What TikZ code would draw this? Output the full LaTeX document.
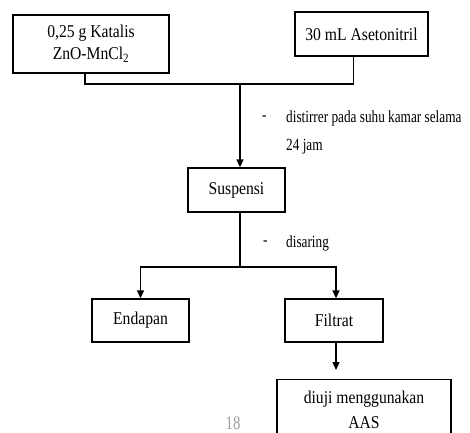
\documentclass[tikz,border=0pt]{standalone}
\usepackage{fontspec}
\setmainfont{Liberation Serif}
\newfontfamily\boxfont[FakeStretch=0.87]{Liberation Serif}
\newfontfamily\lblfont[FakeStretch=0.78]{Liberation Serif}
\usepackage{tikz}
\usetikzlibrary{arrows.meta,positioning,calc}
\tikzset{
  box/.style={draw, line width=1.3pt, align=center, font=\boxfont\fontsize{18}{22}\selectfont, inner sep=2pt},
  lbl/.style={anchor=west, font=\lblfont\fontsize{17}{20}\selectfont, inner sep=0pt},
  arr/.style={-{Triangle[length=8pt,width=7pt]}, line width=1.3pt},
  ln/.style={line width=1.3pt}
}
\begin{document}
\begin{tikzpicture}[x=1pt,y=-1pt]
\useasboundingbox (0,0) rectangle (470,432);
\node[box, minimum width=156pt, minimum height=58pt] (k1) at (91,44) {0,25 g Katalis\\ ZnO-MnCl\textsubscript{2}};
\node[box, minimum width=133pt, minimum height=44pt] (a2) at (361.5,34) {30 mL Asetonitril};
\node[box, minimum width=97pt, minimum height=44pt] (s1) at (236.5,190) {Suspensi};
\node[box, minimum width=97pt, minimum height=43pt] (e1) at (140.5,320.5) {Endapan};
\node[box, minimum width=98pt, minimum height=43pt] (f1) at (334,320.5) {Filtrat};
\node[box, anchor=north, minimum width=174pt, minimum height=60pt, inner ysep=4pt, font=\boxfont\fontsize{18}{25}\selectfont] (u1) at (364,379) {diuji menggunakan\\ AAS};
% keterangan proses
\node[lbl] (d1) at (262,118) {-};
\node[lbl] (t1) at (286,118) {distirrer pada suhu kamar selama};
\node[lbl] (t2) at (286,147) {24 jam};
\node[lbl] (d2) at (263,243) {-};
\node[lbl] (t3) at (286,243) {disaring};
\node[font=\lblfont\fontsize{19}{20}\selectfont, text=black!38] (pg) at (233,423) {18};
\coordinate (j1) at (240,84);
\coordinate (j2) at (240,267);
\draw[ln] ($(k1.south)+(-6,0)$) |- (j1) -| ($(a2.south)+(-8,0)$);
\draw[arr] (j1) -- (j1 |- s1.north);
\draw[ln] (j1 |- s1.south) -- (j2);
\draw[arr] (j2) -| (e1.north);
\draw[arr] (j2) -| ($(f1.north)+(2,0)$);
\draw[arr, shorten >=9pt] ($(f1.south)+(2,0)$) -- ($(f1.south |- u1.north)+(2,0)$);
\end{tikzpicture}
\end{document}
